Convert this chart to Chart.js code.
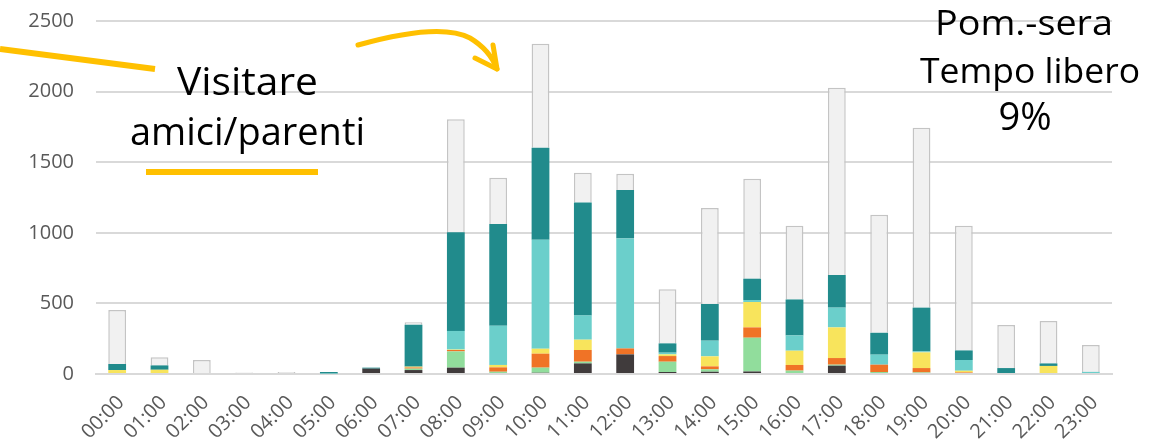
<!DOCTYPE html>
<html>
<head>
<meta charset="utf-8">
<script src="https://cdn.jsdelivr.net/npm/chart.js@4"></script>
<style>
  html, body { margin: 0; padding: 0; background: #fff; }
  #wrap { position: relative; width: 1155px; height: 445px; }
  #overlay { position: absolute; left: 0; top: 0; pointer-events: none; }
  #overlay text { font-family: "Open Sans", sans-serif; fill: #000; }
</style>
</head>
<body>
<div id="wrap">
  <canvas id="myChart" width="1155" height="445"></canvas>
  <svg id="overlay" width="1155" height="445">
    <!-- linee gialle -->
    <path d="M0 49 L155 69" stroke="#FFC000" stroke-width="6" fill="none"/>
    <path d="M146 172 L318 172" stroke="#FFC000" stroke-width="6" fill="none"/>
    <path d="M358 45 Q440 22 470 38 Q490 50 497 69" stroke="#FFC000" stroke-width="5" fill="none" stroke-linecap="round"/>
    <path d="M475 58 L497 69 L493 45" stroke="#FFC000" stroke-width="5" fill="none" stroke-linecap="round" stroke-linejoin="round"/>
    <!-- testi -->
    <text x="177" y="95" font-size="39" textLength="141" lengthAdjust="spacingAndGlyphs">Visitare</text>
    <text x="130" y="145" font-size="39" textLength="235" lengthAdjust="spacingAndGlyphs">amici/parenti</text>
    <text x="935" y="35" font-size="35" textLength="178" lengthAdjust="spacingAndGlyphs">Pom.-sera</text>
    <text x="920" y="83" font-size="35" textLength="220" lengthAdjust="spacingAndGlyphs">Tempo libero</text>
    <text x="1025" y="130" font-size="38" text-anchor="middle">9%</text>
  </svg>
</div>
<script>
// etichette asse x (ore)
var ore = ['00:00','01:00','02:00','03:00','04:00','05:00','06:00','07:00','08:00','09:00','10:00','11:00',
           '12:00','13:00','14:00','15:00','16:00','17:00','18:00','19:00','20:00','21:00','22:00','23:00'];

// valori per serie (dal basso verso l'alto)
var grigioScuro = [0,0,0,0,0,0,38,28,45,7,9,75,139,14,16,18,0,59,0,0,0,0,0,0];
var verde       = [0,0,0,0,0,0,0,10,115,9,36,12,0,73,17,239,24,7,14,11,0,0,0,0];
var arancio     = [0,0,0,0,0,0,0,8,10,31,99,83,42,40,21,73,40,47,52,31,11,0,7,0];
var giallo      = [28,30,0,0,0,0,0,6,3,17,35,73,0,12,71,180,101,217,0,111,12,0,50,0];
var azzurro     = [0,0,0,0,0,4,0,0,132,278,772,172,779,12,111,14,108,140,71,7,76,0,0,15];
var verdeAcqua  = [43,31,0,0,0,10,7,297,699,720,652,800,343,66,260,151,255,231,155,310,68,42,18,0];
var altro       = [382,57,99,10,15,0,0,17,800,328,736,210,115,383,680,708,522,1326,836,1274,883,305,300,190];

// tick asse y
var tickY = [0, 500, 1000, 1500, 2000, 2500];

function serie(dati, colore) {
    return { data: dati, backgroundColor: colore, borderWidth: 0 };
}

var ctx = document.getElementById('myChart');

var myChart = new Chart(ctx, {
    type: 'bar',
    data: {
        labels: ore,
        datasets: [
            serie(grigioScuro, '#403B3C'),
            serie(verde, '#91DD9C'),
            serie(arancio, '#F07326'),
            serie(giallo, '#F8E45C'),
            serie(azzurro, '#6BCFCB'),
            serie(verdeAcqua, '#218B8C'),
            { data: altro, backgroundColor: '#F1F1F1', borderColor: '#C4C4C4', borderWidth: 1.5 }
        ]
    },
    options: {
        responsive: false,
        animation: false,
        layout: { padding: { top: 21, right: 43, left: 0, bottom: 0 } },
        datasets: { bar: { categoryPercentage: 1, barPercentage: 0.42 } },
        plugins: { legend: { display: false }, tooltip: { enabled: false } },
        scales: {
            x: {
                stacked: true,
                grid: { display: false, drawTicks: false },
                border: { color: '#D9D9D9', width: 2 },
                ticks: {
                    color: '#595959',
                    font: { family: 'Open Sans', size: 20 },
                    minRotation: 45,
                    maxRotation: 45,
                    padding: 17,
                    labelOffset: 4
                },
                afterFit: function(scale) { scale.height = 71; }
            },
            y: {
                stacked: true,
                min: 0,
                max: 2500,
                afterBuildTicks: function(scale) {
                    scale.ticks = tickY.map(function(v) { return { value: v }; });
                },
                grid: { color: '#D9D9D9', lineWidth: 2, drawTicks: false },
                border: { display: false },
                ticks: {
                    color: '#595959',
                    font: { family: 'Open Sans', size: 20 },
                    padding: 22,
                    callback: function(v) { return String(v); }
                },
                afterFit: function(scale) {
                    scale.width = 96;
                    scale.paddingTop = 0;
                    scale.paddingBottom = 0;
                }
            }
        }
    }
});
</script>
</body>
</html>
